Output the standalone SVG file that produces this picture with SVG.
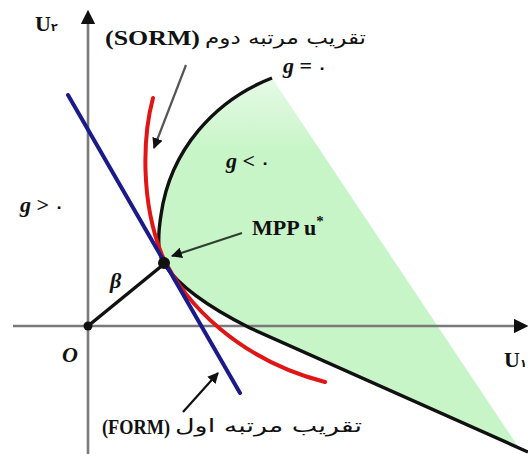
<svg xmlns="http://www.w3.org/2000/svg" width="528" height="454" viewBox="0 0 528 454">
<style>
.ax{stroke:#7a7a7a;stroke-width:2.6;fill:none}
.lbl{font-family:"Liberation Serif","DejaVu Serif",serif;font-weight:bold;font-size:22px;fill:#111}
.it{font-style:italic}
.fa{font-family:"DejaVu Sans","Noto Sans",sans-serif;font-size:18px;fill:#111}
.dg{font-family:"DejaVu Sans",sans-serif;font-weight:bold}
</style>
<defs>
<linearGradient id="gr" x1="0" y1="78" x2="0" y2="150" gradientUnits="userSpaceOnUse">
<stop offset="0" stop-color="#e6fae6"/><stop offset="1" stop-color="#c8f5c8"/>
</linearGradient>
<marker id="ah" viewBox="0 0 10 10" refX="9" refY="5" markerWidth="5" markerHeight="5" orient="auto" markerUnits="strokeWidth">
<path d="M0,0 L10,5 L0,10 Z" fill="#111"/>
</marker>
<marker id="axh" viewBox="0 0 10 10" refX="0" refY="5" markerWidth="5.5" markerHeight="5.5" orient="auto" markerUnits="strokeWidth">
<path d="M0,0 L10,5 L0,10 Z" fill="#111"/>
</marker>
</defs>

<g id="safe-region">
<path d="M272,78 C215,100 170,150 161,215 C157,240 158,255 164,264 C180,288 210,308 250,328 L519,448 Z" fill="url(#gr)"/>
</g>

<g id="axes">
<line class="ax" x1="88" y1="454" x2="88" y2="24" marker-end="url(#axh)"/>
<line class="ax" x1="13" y1="326" x2="514" y2="326" marker-end="url(#axh)"/>
</g>

<g id="limit-state">
<path d="M272,78 C215,100 170,150 161,215 C157,240 158,255 164,264 C180,288 210,308 250,328 L528,452" fill="none" stroke="#111" stroke-width="3.4"/>
</g>
<g id="sorm-curve">
<path d="M153,98 C143,135 140,200 162,255 C185,305 240,360 325,382" fill="none" stroke="#e01515" stroke-width="4" stroke-linecap="round"/>
</g>
<g id="form-line">
<line x1="68" y1="95" x2="240" y2="393" stroke="#1a1a8a" stroke-width="4" stroke-linecap="round"/>
</g>
<g id="beta">
<line x1="88" y1="326" x2="164" y2="264" stroke="#111" stroke-width="3.5"/>
</g>
<g id="origin"><circle cx="88" cy="326" r="4.5" fill="#111"/></g>
<g id="mpp"><circle cx="164" cy="263" r="6" fill="#111"/></g>

<g id="connectors">
<line x1="186" y1="65" x2="154" y2="148" stroke="#555" stroke-width="2.2" marker-end="url(#ah)"/>
<line x1="242" y1="233" x2="172" y2="256" stroke="#2f3f2f" stroke-width="2.2" marker-end="url(#ah)"/>
<line x1="183" y1="412" x2="218" y2="373" stroke="#111" stroke-width="2.2" marker-end="url(#ah)"/>
</g>

<g id="labels">
<text class="lbl" x="35" y="31">U<tspan class="dg" font-size="11">۲</tspan></text>
<text class="lbl" x="504" y="367">U<tspan class="dg" font-size="11">۱</tspan></text>
<text class="lbl" x="105" y="45" textLength="95" lengthAdjust="spacingAndGlyphs">(SORM)</text>
<text class="fa" x="205" y="44" textLength="161" lengthAdjust="spacingAndGlyphs">تقریب مرتبه دوم</text>
<text class="lbl" x="102" y="434" textLength="68" lengthAdjust="spacingAndGlyphs">(FORM)</text>
<text class="fa" x="175" y="432" textLength="187" lengthAdjust="spacingAndGlyphs">تقریب مرتبه اول</text>
<text class="lbl" x="283" y="73"><tspan class="it">g</tspan> = <tspan class="dg" font-size="15">۰</tspan></text>
<text class="lbl" x="226" y="168"><tspan class="it">g</tspan> &lt; <tspan class="dg" font-size="15">۰</tspan></text>
<text class="lbl" x="20" y="212"><tspan class="it">g</tspan> &gt; <tspan class="dg" font-size="15">۰</tspan></text>
<text class="lbl" x="252" y="235">MPP u<tspan font-size="15" dy="-9">*</tspan></text>
<text class="lbl it" x="110" y="288">β</text>
<text class="lbl it" x="62" y="362">O</text>
</g>
</svg>
